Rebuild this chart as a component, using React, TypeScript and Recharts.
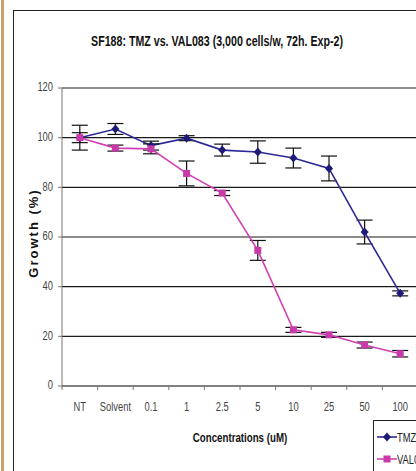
import { LineChart, Line, XAxis, YAxis, CartesianGrid, ErrorBar, Label } from 'recharts';

const concentrations = ['NT', 'Solvent', '0.1', '1', '2.5', '5', '10', '25', '50', '100'];
const tmzGrowth = [100, 103.5, 96.8, 99.8, 95, 94.2, 91.8, 87.6, 62, 37.3];
const tmzError = [5, 2.2, 1.8, 1, 2.4, 4.5, 4, 5, 4.8, 1];
const valGrowth = [100, 95.8, 95.5, 85.6, 77.7, 54.6, 22.6, 20.6, 16.5, 13];
const valError = [2, 1.2, 2, 5, 1, 4, 1, 1, 1.2, 1.3];
const seriesNames = ['TMZ', 'VAL083'];
const yTicks = [0, 20, 40, 60, 80, 100, 120];

const data = concentrations.map((c, i) => ({
  conc: c,
  tmz: tmzGrowth[i],
  tmzErr: tmzError[i],
  val: valGrowth[i],
  valErr: valError[i],
}));

const TMZ_COLOR = '#2c2896';
const TMZ_DOT = '#1e1a78';
const VAL_COLOR = '#d23fb4';
const VAL_DOT = '#c83aaa';
const SANS = '"Liberation Sans", Arial, sans-serif';
const SQUEEZE = 0.72; // fake Arial Narrow

const W = 430;
const H = 471;
const M = { top: 88, right: 12, bottom: 0, left: 0 };
const Y_W = 62;
const X_H = 85;
const band = (W - M.left - M.right - Y_W) / concentrations.length;

const Diamond = (props: any) => {
  const { cx, cy } = props;
  if (cx == null || cy == null) return null;
  return <polygon points={`${cx},${cy - 4.5} ${cx + 4},${cy} ${cx},${cy + 4.5} ${cx - 4},${cy}`} fill={TMZ_DOT} />;
};

const Square = (props: any) => {
  const { cx, cy } = props;
  if (cx == null || cy == null) return null;
  return <rect x={cx - 3.5} y={cy - 3.5} width={7} height={7} fill={VAL_DOT} />;
};

const Narrow = ({ x, y, anchor, size, weight, fill, children }: any) => (
  <text
    transform={`translate(${x},${y}) scale(${SQUEEZE},1)`}
    textAnchor={anchor}
    dominantBaseline="middle"
    fill={fill}
    fontSize={size}
    fontWeight={weight}
    fontFamily={SANS}
  >
    {children}
  </text>
);

const XTick = (props: any) => {
  const { x, y, payload, index } = props;
  return (
    <g>
      {index === 0 && <line x1={x - band / 2} x2={x - band / 2} y1={y} y2={y + 4} stroke="#777" />}
      <line x1={x + band / 2} x2={x + band / 2} y1={y} y2={y + 4} stroke="#777" />
      <Narrow x={x} y={y + 22} anchor="middle" size={13} fill="#444">
        {payload.value}
      </Narrow>
    </g>
  );
};

const YTick = (props: any) => {
  const { x, y, payload } = props;
  return (
    <Narrow x={x} y={y} anchor="end" size={13} fill="#444">
      {payload.value}
    </Narrow>
  );
};

const XTitle = (props: any) => {
  const vb = props.viewBox;
  return (
    <Narrow x={vb.x + vb.width / 2} y={438} anchor="middle" size={13.5} weight="bold" fill="#111">
      Concentrations (uM)
    </Narrow>
  );
};

export default function App() {
  return (
    <div style={{ position: 'absolute', left: 0, top: 0, width: 416, height: 471, overflow: 'hidden', background: '#fff' }}>
      <div style={{ position: 'absolute', left: 1, top: 0, width: 2.5, height: 471, background: '#c9a06a' }} />
      <div style={{ position: 'absolute', left: 13, top: 10, width: 420, height: 480, border: '1.5px solid #222' }} />
      <div
        style={{
          position: 'absolute',
          left: 0,
          top: 33,
          width: 434,
          textAlign: 'center',
          fontFamily: SANS,
          fontWeight: 'bold',
          fontSize: 14,
          color: '#111',
          transform: 'scaleX(0.76)',
        }}
      >
        SF188: TMZ vs. VAL083 (3,000 cells/w, 72h. Exp-2)
      </div>
      <div style={{ position: 'absolute', left: 0, top: 0 }}>
        <LineChart width={W} height={H} data={data} margin={M}>
          <CartesianGrid vertical={false} stroke="#1a1a1a" strokeWidth={1.2} />
          <XAxis
            dataKey="conc"
            height={X_H}
            stroke="#777"
            tickLine={false}
            tickSize={0}
            tickMargin={0}
            tick={<XTick />}
            interval={0}
            padding={{ left: band / 2, right: band / 2 }}
          >
            <Label content={<XTitle />} />
          </XAxis>
          <YAxis
            width={Y_W}
            domain={[0, 120]}
            ticks={yTicks}
            stroke="#777"
            tickSize={4}
            tickMargin={5}
            tick={<YTick />}
          >
            <Label
              value="Growth (%)"
              position="center"
              angle={-90}
              dx={2}
              dy={-4}
              fill="#111"
              fontSize={13}
              fontWeight="bold"
              fontFamily={SANS}
              letterSpacing={2}
            />
          </YAxis>
          <Line
            dataKey="tmz"
            stroke={TMZ_COLOR}
            strokeWidth={1.6}
            dot={<Diamond />}
            activeDot={false}
            isAnimationActive={false}
          >
            <ErrorBar dataKey="tmzErr" direction="y" width={8} stroke="#111" strokeWidth={1.2} isAnimationActive={false} />
          </Line>
          <Line
            dataKey="val"
            stroke={VAL_COLOR}
            strokeWidth={1.6}
            dot={<Square />}
            activeDot={false}
            isAnimationActive={false}
          >
            <ErrorBar dataKey="valErr" direction="y" width={8} stroke="#111" strokeWidth={1.2} isAnimationActive={false} />
          </Line>
        </LineChart>
      </div>
      <div
        style={{
          position: 'absolute',
          left: 373,
          top: 420,
          width: 80,
          height: 60,
          border: '1px solid #222',
          background: '#fff',
          fontFamily: SANS,
          fontSize: 13,
          color: '#222',
        }}
      >
        {seriesNames.map((name, i) => (
          <div key={name} style={{ display: 'flex', alignItems: 'center', height: 20, marginTop: i === 0 ? 6 : 2 }}>
            <svg width={20} height={12} style={{ marginLeft: 3, flexShrink: 0 }}>
              <line x1={0} x2={20} y1={6} y2={6} stroke={i === 0 ? TMZ_COLOR : VAL_COLOR} strokeWidth={1.6} />
              {i === 0 ? (
                <polygon points="10,1.5 14,6 10,10.5 6,6" fill={TMZ_DOT} />
              ) : (
                <rect x={6.5} y={2.5} width={7} height={7} fill={VAL_DOT} />
              )}
            </svg>
            <span style={{ display: 'inline-block', transform: `scaleX(${SQUEEZE})`, transformOrigin: 'left center' }}>{name}</span>
          </div>
        ))}
      </div>
    </div>
  );
}
